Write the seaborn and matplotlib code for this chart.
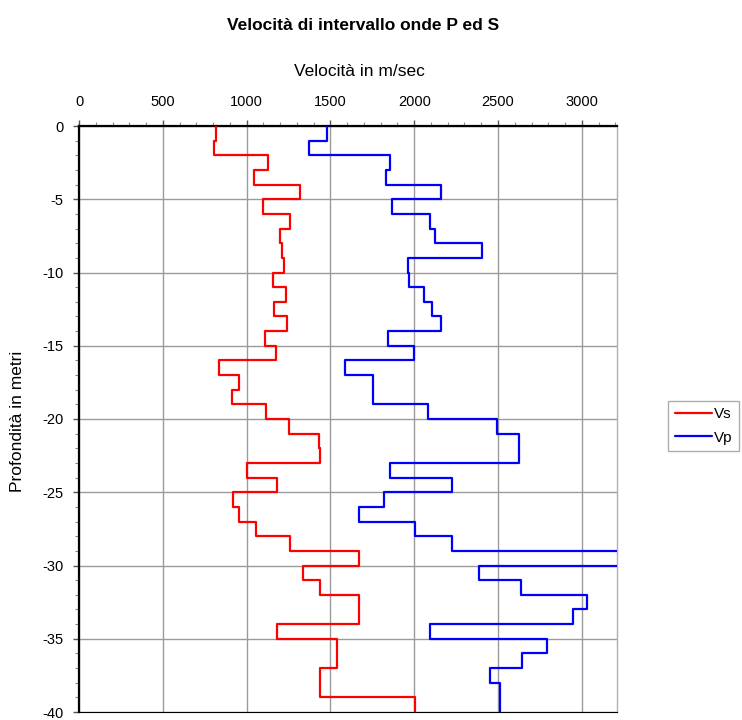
import numpy as np
import pandas as pd
import matplotlib
matplotlib.use('Agg')
import matplotlib.pyplot as plt
import seaborn as sns
from matplotlib.ticker import MultipleLocator

# strati di 1 m da 0 a 40 m
prof_top = list(range(0, 40))
prof_bot = list(range(1, 41))

# velocità onde S (m/sec) per strato
vs = [818, 807, 1129, 1042, 1316, 1096, 1257, 1202, 1213, 1224,
      1158, 1235, 1162, 1239, 1107, 1173, 836, 956, 912, 1114,
      1250, 1432, 1435, 1004, 1184, 917, 956, 1055, 1257, 1673,
      1338, 1436, 1673, 1673, 1184, 1542, 1542, 1436, 1436, 2007]

# velocità onde P (m/sec) per strato
vp = [1480, 1371, 1855, 1833, 2160, 1866, 2094, 2127, 2404, 1963,
      1969, 2057, 2107, 2160, 1844, 1996, 1590, 1757, 1757, 2083,
      2496, 2627, 2627, 1855, 2228, 1822, 1673, 2007, 2228, 3450,
      2386, 2638, 3033, 2945, 2094, 2792, 2643, 2452, 2511, 2511]

x_ticks = [0, 500, 1000, 1500, 2000, 2500, 3000]
y_ticks = [0, -5, -10, -15, -20, -25, -30, -35, -40]


def gradini(nome, valori):
    # ogni strato diventa un segmento verticale (top -> bottom)
    righe = []
    for t, b, v in zip(prof_top, prof_bot, valori):
        righe.append((nome, v, -t))
        righe.append((nome, v, -b))
    return pd.DataFrame(righe, columns=['Onda', 'Velocita', 'Profondita'])


df = pd.concat([gradini('Vs', vs), gradini('Vp', vp)], ignore_index=True)

sns.set_style('white')
plt.rcParams['font.family'] = ['Liberation Sans', 'DejaVu Sans']
plt.rcParams['axes.unicode_minus'] = False
plt.rcParams['text.color'] = 'black'
plt.rcParams['xtick.color'] = 'black'
plt.rcParams['ytick.color'] = 'black'

fig = plt.figure(figsize=(7.42, 7.2), dpi=100)
W, H = 742, 720
left, right, top, bottom = 79, 617, 126, 712
ax = fig.add_axes([left / W, 1 - bottom / H, (right - left) / W, (bottom - top) / H])

colori = {'Vs': '#ff0000', 'Vp': '#0000ff'}
for nome in ['Vs', 'Vp']:
    sns.lineplot(data=df[df['Onda'] == nome], x='Velocita', y='Profondita',
                 sort=False, estimator=None, color=colori[nome], lw=1.6,
                 ax=ax, label=nome, zorder=3)

ax.set_xlim(0, 3210)
ax.set_ylim(-40, 0)
ax.set_xticks(x_ticks)
ax.set_yticks(y_ticks)
ax.xaxis.set_minor_locator(MultipleLocator(100))
ax.yaxis.set_minor_locator(MultipleLocator(1))
ax.xaxis.tick_top()
ax.tick_params(axis='x', which='major', top=True, bottom=False, length=4,
               width=1, pad=8, labelsize=10.5, color='#555555',
               labelcolor='black')
ax.tick_params(axis='x', which='minor', top=True, bottom=False, length=3,
               width=0.8, color='#888888')
ax.tick_params(axis='y', which='major', left=True, length=4, width=1,
               pad=7, labelsize=10.5, color='#555555', labelcolor='black')
ax.tick_params(axis='y', which='minor', left=True, length=3, width=0.8,
               color='#888888')
ax.set_xlabel('')
ax.set_ylabel('')

ax.grid(True, which='major', color='#9a9a9a', lw=1.0)
for s in ['top', 'left']:
    ax.spines[s].set_color('black')
    ax.spines[s].set_linewidth(1.6)
ax.spines['right'].set_color('#b0b0b0')
ax.spines['right'].set_linewidth(1.0)
ax.spines['bottom'].set_color('black')

leg = ax.legend(loc='center left', bbox_to_anchor=(1.095, 0.488),
                borderaxespad=0, frameon=True, fancybox=False,
                edgecolor='#999999', fontsize=11,
                handlelength=2.4, handletextpad=0.15, borderpad=0.45,
                labelspacing=0.6)
leg.get_frame().set_linewidth(1.0)

fig.text(363 / W, 1 - 25 / H, 'Velocità di intervallo onde P ed S',
         ha='center', va='center', fontsize=12.5, fontweight='bold')
fig.text(359 / W, 1 - 71 / H, 'Velocità in m/sec', ha='center', va='center',
         fontsize=12.5)
fig.text(18 / W, 1 - 421 / H, 'Profondità in metri', ha='center', va='center',
         rotation=90, fontsize=12.5)

fig.savefig('out.png', dpi=100)
